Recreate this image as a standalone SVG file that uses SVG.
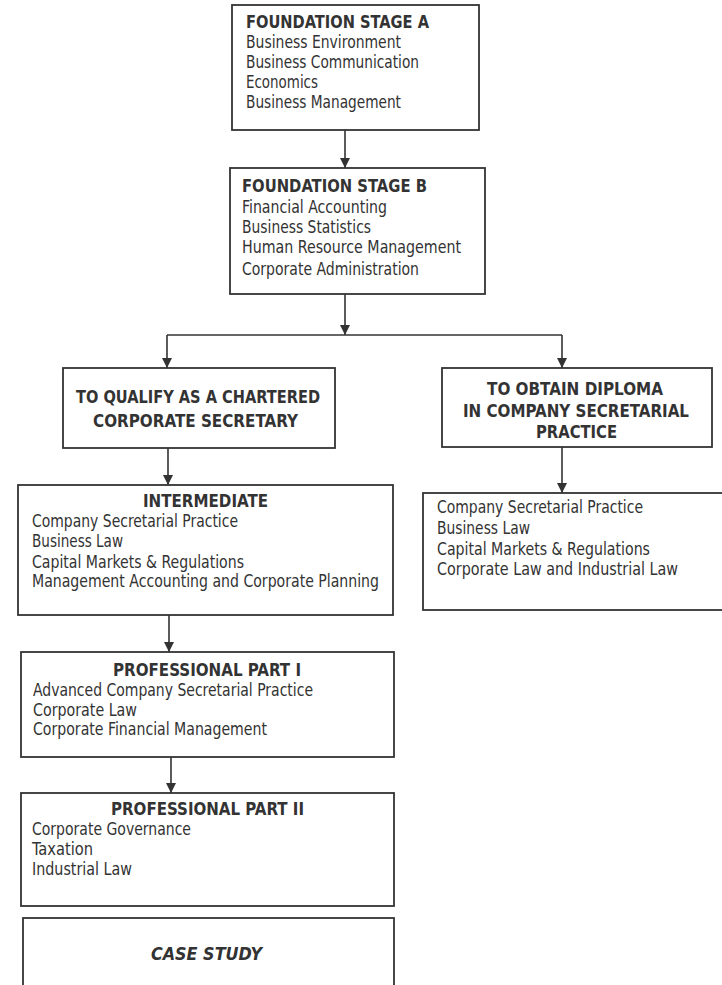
<svg xmlns="http://www.w3.org/2000/svg" width="722" height="985" viewBox="0 0 722 985">
<defs>
<marker id="ah" markerWidth="10" markerHeight="10" refX="10" refY="5" orient="auto" markerUnits="userSpaceOnUse" viewBox="0 0 10 10">
<path d="M0,0 L10,5 L0,10 Z" fill="#333"/>
</marker>
</defs>
<style>
.box{fill:#fff;stroke:#333;stroke-width:1.8}
.t{font-family:'DejaVu Sans Condensed','DejaVu Sans',sans-serif;font-stretch:condensed;font-size:18px;fill:#333}
.b{font-weight:bold}
.c{stroke:#333;stroke-width:1.6;fill:none}
</style>
<rect width="722" height="985" fill="#fff"/>
<g id="connectors">
<line class="c" x1="345" y1="130" x2="345" y2="168" marker-end="url(#ah)"/>
<line class="c" x1="345" y1="294" x2="345" y2="335" marker-end="url(#ah)"/>
<line class="c" x1="167" y1="335" x2="562" y2="335"/>
<line class="c" x1="167" y1="335" x2="167" y2="368" marker-end="url(#ah)"/>
<line class="c" x1="562" y1="335" x2="562" y2="368" marker-end="url(#ah)"/>
<line class="c" x1="168" y1="448" x2="168" y2="485" marker-end="url(#ah)"/>
<line class="c" x1="562" y1="447" x2="562" y2="493" marker-end="url(#ah)"/>
<line class="c" x1="169" y1="615" x2="169" y2="652" marker-end="url(#ah)"/>
<line class="c" x1="171" y1="757" x2="171" y2="793" marker-end="url(#ah)"/>
</g>
<g id="stageA">
<rect class="box" x="232" y="5" width="247" height="125"/>
<text class="t b" x="246" y="28" textLength="183" lengthAdjust="spacingAndGlyphs">FOUNDATION STAGE A</text>
<text class="t" x="246" y="48" textLength="155" lengthAdjust="spacingAndGlyphs">Business Environment</text>
<text class="t" x="246" y="68" textLength="173" lengthAdjust="spacingAndGlyphs">Business Communication</text>
<text class="t" x="246" y="88" textLength="72" lengthAdjust="spacingAndGlyphs">Economics</text>
<text class="t" x="246" y="108" textLength="155" lengthAdjust="spacingAndGlyphs">Business Management</text>
</g>
<g id="stageB">
<rect class="box" x="230" y="168" width="255" height="126"/>
<text class="t b" x="242" y="192" textLength="185" lengthAdjust="spacingAndGlyphs">FOUNDATION STAGE B</text>
<text class="t" x="242" y="213" textLength="145" lengthAdjust="spacingAndGlyphs">Financial Accounting</text>
<text class="t" x="242" y="233" textLength="129" lengthAdjust="spacingAndGlyphs">Business Statistics</text>
<text class="t" x="242" y="253" textLength="219" lengthAdjust="spacingAndGlyphs">Human Resource Management</text>
<text class="t" x="242" y="275" textLength="177" lengthAdjust="spacingAndGlyphs">Corporate Administration</text>
</g>
<g id="qualify">
<rect class="box" x="63" y="368" width="272" height="80"/>
<text class="t b" x="76" y="403" textLength="244" lengthAdjust="spacingAndGlyphs">TO QUALIFY AS A CHARTERED</text>
<text class="t b" x="93" y="427" textLength="205" lengthAdjust="spacingAndGlyphs">CORPORATE SECRETARY</text>
</g>
<g id="diploma">
<rect class="box" x="442" y="368" width="270" height="79"/>
<text class="t b" x="487" y="395" textLength="176" lengthAdjust="spacingAndGlyphs">TO OBTAIN DIPLOMA</text>
<text class="t b" x="463" y="417" textLength="226" lengthAdjust="spacingAndGlyphs">IN COMPANY SECRETARIAL</text>
<text class="t b" x="536" y="438" textLength="81" lengthAdjust="spacingAndGlyphs">PRACTICE</text>
</g>
<g id="diplomaSubjects">
<rect class="box" x="423" y="493" width="310" height="117"/>
<text class="t" x="437" y="513" textLength="206" lengthAdjust="spacingAndGlyphs">Company Secretarial Practice</text>
<text class="t" x="437" y="534" textLength="93" lengthAdjust="spacingAndGlyphs">Business Law</text>
<text class="t" x="437" y="555" textLength="213" lengthAdjust="spacingAndGlyphs">Capital Markets &amp; Regulations</text>
<text class="t" x="437" y="575" textLength="241" lengthAdjust="spacingAndGlyphs">Corporate Law and Industrial Law</text>
</g>
<g id="intermediate">
<rect class="box" x="18" y="485" width="375" height="130"/>
<text class="t b" x="143" y="507" textLength="125" lengthAdjust="spacingAndGlyphs">INTERMEDIATE</text>
<text class="t" x="32" y="527" textLength="206" lengthAdjust="spacingAndGlyphs">Company Secretarial Practice</text>
<text class="t" x="32" y="547" textLength="91" lengthAdjust="spacingAndGlyphs">Business Law</text>
<text class="t" x="32" y="568" textLength="212" lengthAdjust="spacingAndGlyphs">Capital Markets &amp; Regulations</text>
<text class="t" x="32" y="587" textLength="347" lengthAdjust="spacingAndGlyphs">Management Accounting and Corporate Planning</text>
</g>
<g id="profI">
<rect class="box" x="21" y="652" width="373" height="105"/>
<text class="t b" x="113" y="676" textLength="188" lengthAdjust="spacingAndGlyphs">PROFESSIONAL PART I</text>
<text class="t" x="33" y="696" textLength="280" lengthAdjust="spacingAndGlyphs">Advanced Company Secretarial Practice</text>
<text class="t" x="33" y="716" textLength="104" lengthAdjust="spacingAndGlyphs">Corporate Law</text>
<text class="t" x="33" y="735" textLength="234" lengthAdjust="spacingAndGlyphs">Corporate Financial Management</text>
</g>
<g id="profII">
<rect class="box" x="21" y="793" width="373" height="113"/>
<text class="t b" x="111" y="815" textLength="193" lengthAdjust="spacingAndGlyphs">PROFESSIONAL PART II</text>
<text class="t" x="32" y="835" textLength="159" lengthAdjust="spacingAndGlyphs">Corporate Governance</text>
<text class="t" x="32" y="855" textLength="61" lengthAdjust="spacingAndGlyphs">Taxation</text>
<text class="t" x="32" y="875" textLength="100" lengthAdjust="spacingAndGlyphs">Industrial Law</text>
</g>
<g id="caseStudy">
<rect class="box" x="23" y="918" width="371" height="90"/>
<text class="t b" x="151" y="960" font-style="italic" textLength="111" lengthAdjust="spacingAndGlyphs">CASE STUDY</text>
</g>
</svg>
